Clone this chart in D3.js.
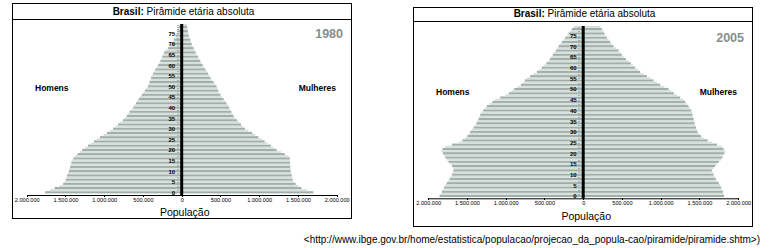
<!DOCTYPE html>
<html>
<head>
<meta charset="utf-8">
<script src="https://cdn.jsdelivr.net/npm/d3@7"></script>
<style>
  body { margin: 0; background: #fff; }
  svg.vis { display: block; width: 770px; height: 248px; font-family: "Liberation Sans", Arial, sans-serif; }
  .tick line { shape-rendering: crispEdges; }
</style>
</head>
<body>
<svg class="vis"></svg>
<script>
// idades simples 0..79 (uma barra por ano)
const ages = d3.range(0, 80);
const ageTicks = [0, 5, 10, 15, 20, 25, 30, 35, 40, 45, 50, 55, 60, 65, 70, 75];
const popTicks = [-2000000, -1500000, -1000000, -500000, 0, 500000, 1000000, 1500000, 2000000];
const years = ['1980', '2005'];

// populacao em milhares, idade 0 -> 79
const homens1980 = [1764,1700,1640,1575,1530,1506,1495,1488,1478,1466,
  1455,1450,1440,1432,1424,1415,1396,1377,1345,1310,
  1286,1248,1209,1170,1132,1093,1054,1009,964,925,
  886,854,822,790,757,731,710,693,672,648,
  625,610,590,575,555,538,515,495,475,455,
  435,425,415,405,395,387,370,355,340,320,
  305,290,275,262,250,240,228,205,178,152,
  130,116,102,90,76,65,55,46,38,30];
const mulheres1980 = [1700,1620,1545,1505,1470,1440,1430,1425,1420,1410,
  1406,1405,1400,1400,1398,1397,1395,1380,1330,1280,
  1226,1190,1150,1110,1070,1032,990,950,910,860,
  817,790,765,740,715,688,670,655,640,625,
  610,595,578,560,540,516,500,485,470,460,
  450,430,410,390,372,356,340,325,305,285,
  270,255,240,225,210,194,180,167,154,140,
  129,120,110,100,92,85,80,75,70,65];
const homens2005 = [1854,1840,1823,1808,1795,1781,1762,1744,1725,1710,
  1694,1684,1675,1673,1692,1716,1738,1759,1780,1798,
  1810,1832,1815,1780,1694,1609,1560,1523,1495,1475,
  1458,1436,1414,1394,1378,1364,1352,1340,1329,1316,
  1290,1265,1243,1210,1172,1135,1070,1006,960,925,
  890,846,804,778,752,727,684,640,597,565,
  533,504,475,447,430,413,392,372,352,335,
  318,296,275,253,232,210,189,168,146,125];
const mulheres2005 = [1819,1810,1802,1790,1780,1768,1750,1731,1712,1697,
  1682,1671,1660,1680,1703,1725,1752,1777,1795,1810,
  1822,1832,1812,1790,1725,1660,1605,1552,1520,1495,
  1475,1465,1455,1445,1438,1432,1425,1418,1410,1406,
  1395,1375,1359,1338,1316,1295,1252,1209,1170,1135,
  1101,1047,994,951,908,865,822,778,735,703,
  671,642,613,585,552,520,498,477,456,423,
  391,370,348,327,305,284,273,262,240,219];

const v = {

    elems : {
        svg : 'svg.vis'
    },

    colors : {
        dark : '#a0afa9',
        light : '#d8e0dc',
        year : '#848f8b'
    },

    // caixas dos dois graficos
    panels : [
        { box : [12, 3, 351, 218], titleLine : 19, cx : 181.7, half : 155,
          y0 : 192.3, y75 : 33.3, axisY : 195, axisTop : 24,
          labelY : 91, popY : 216 },
        { box : [413, 7, 752, 226], titleLine : 21, cx : 583.2, half : 155,
          y0 : 196, y75 : 35.5, axisY : 198.3, axisTop : 26,
          labelY : 94.5, popY : 220 }
    ],

    fmt : d3.formatLocale({ decimal : ',', thousands : '.', grouping : [3], currency : ['R$', ''] }).format(',d'),

    render_panel : (p, men, women, year) => {

        const svg = d3.select(v.elems.svg);
        const g = svg.append('g');
        const [bx0, by0, bx1, by1] = p.box;

        const x = d3.scaleLinear()
          .domain([-2000000, 2000000])
          .range([p.cx - p.half, p.cx + p.half]);

        const y = d3.scaleLinear()
          .domain([0, 75])
          .range([p.y0, p.y75]);

        const step = Math.abs(y(1) - y(0));

        // moldura
        g.append('rect')
          .attr('x', bx0 + 0.5).attr('y', by0 + 0.5)
          .attr('width', bx1 - bx0).attr('height', by1 - by0)
          .attr('fill', '#fff').attr('stroke', '#000');

        g.append('line')
          .attr('x1', bx0).attr('x2', bx1 + 1)
          .attr('y1', p.titleLine + 0.5).attr('y2', p.titleLine + 0.5)
          .attr('stroke', '#000');

        const title = g.append('text')
          .attr('x', (bx0 + bx1) / 2 + 2)
          .attr('y', p.titleLine - 4)
          .attr('text-anchor', 'middle')
          .attr('font-size', 10);
        title.append('tspan').attr('font-weight', 'bold').text('Brasil:');
        title.append('tspan').text(' Pirâmide etária absoluta');

        const rows = ages.map((a, i) => ({ age : a, m : men[i] * 1000, f : women[i] * 1000 }));

        g.selectAll('rect.vis-homem')
          .data(rows)
          .join('rect')
          .classed('vis-homem', true)
          .attr('x', d => x(-d.m))
          .attr('width', d => x(0) - x(-d.m))
          .attr('y', d => y(d.age) - step / 2)
          .attr('height', step)
          .attr('fill', d => d.age % 2 ? v.colors.light : v.colors.dark);

        g.selectAll('rect.vis-mulher')
          .data(rows)
          .join('rect')
          .classed('vis-mulher', true)
          .attr('x', x(0))
          .attr('width', d => x(d.f) - x(0))
          .attr('y', d => y(d.age) - step / 2)
          .attr('height', step)
          .attr('fill', d => d.age % 2 ? v.colors.light : v.colors.dark);

        // eixo x
        const xAxis = g.append('g')
          .attr('transform', `translate(0,${p.axisY})`)
          .call(d3.axisBottom(x)
            .tickValues(popTicks)
            .tickFormat(d => v.fmt(Math.abs(d)))
            .tickSize(2)
            .tickSizeOuter(0)
            .tickPadding(1));
        xAxis.select('.domain').attr('stroke', '#000');
        xAxis.selectAll('text').attr('font-size', 5.6).attr('fill', '#000');

        // marcas de cada ano
        const minor = g.append('g')
          .attr('transform', `translate(${p.cx - 3},0)`)
          .call(d3.axisLeft(y).tickValues(ages).tickSize(2).tickFormat(''));
        minor.select('.domain').remove();
        minor.selectAll('line').attr('stroke', '#aaa');

        const ageAxis = g.append('g')
          .attr('transform', `translate(${p.cx - 5.5},0)`)
          .call(d3.axisLeft(y).tickValues(ageTicks).tickSize(0).tickPadding(1));
        ageAxis.select('.domain').remove();
        ageAxis.selectAll('text')
          .attr('font-size', 6).attr('font-weight', 'bold').attr('fill', '#000');

        // eixo central
        g.append('line')
          .attr('x1', p.cx).attr('x2', p.cx)
          .attr('y1', p.axisTop).attr('y2', p.axisY)
          .attr('stroke', '#000').attr('stroke-width', 3);

        g.append('text')
          .attr('x', bx1 - 8).attr('y', by0 + 35)
          .attr('text-anchor', 'end')
          .attr('font-size', 12.5).attr('font-weight', 'bold')
          .attr('fill', v.colors.year)
          .text(year);

        g.append('text')
          .attr('x', bx0 + 23).attr('y', p.labelY)
          .attr('font-size', 8.5).attr('font-weight', 'bold')
          .text('Homens');

        g.append('text')
          .attr('x', bx1 - 15).attr('y', p.labelY)
          .attr('text-anchor', 'end')
          .attr('font-size', 8.5).attr('font-weight', 'bold')
          .text('Mulheres');

        g.append('text')
          .attr('x', p.cx + 3).attr('y', p.popY)
          .attr('text-anchor', 'middle')
          .attr('font-size', 10.5)
          .text('População');

    },

    ctrl : {

        init : () => {

            v.render_panel(v.panels[0], homens1980, mulheres1980, years[0]);
            v.render_panel(v.panels[1], homens2005, mulheres2005, years[1]);

            d3.select(v.elems.svg).append('text')
              .attr('x', 760).attr('y', 243)
              .attr('text-anchor', 'end')
              .attr('font-size', 10)
              .text('<http://www.ibge.gov.br/home/estatistica/populacao/projecao_da_popula-cao/piramide/piramide.shtm>)');

        }

    }

}

v.ctrl.init();
</script>
</body>
</html>
